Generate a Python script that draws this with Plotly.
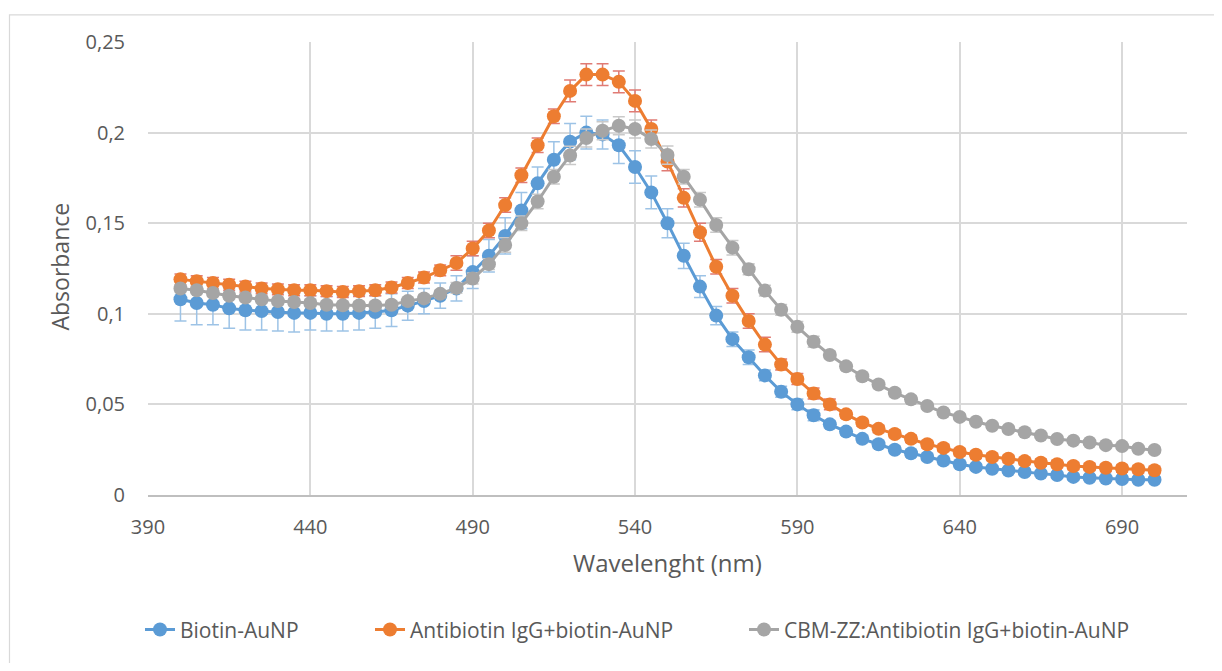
import plotly.graph_objects as go

wavelength = [400, 405, 410, 415, 420, 425, 430, 435, 440, 445, 450, 455, 460, 465, 470,
              475, 480, 485, 490, 495, 500, 505, 510, 515, 520, 525, 530, 535, 540, 545,
              550, 555, 560, 565, 570, 575, 580, 585, 590, 595, 600, 605, 610, 615, 620,
              625, 630, 635, 640, 645, 650, 655, 660, 665, 670, 675, 680, 685, 690, 695, 700]

biotin = [0.108, 0.106, 0.105, 0.103, 0.102, 0.1015, 0.101, 0.1005, 0.1005, 0.100, 0.100,
          0.1005, 0.101, 0.102, 0.1045, 0.107, 0.110, 0.114, 0.123, 0.132, 0.143, 0.157,
          0.172, 0.185, 0.195, 0.200, 0.199, 0.193, 0.181, 0.167, 0.150, 0.132, 0.115,
          0.099, 0.086, 0.076, 0.066, 0.057, 0.050, 0.044, 0.039, 0.035, 0.031, 0.028,
          0.025, 0.023, 0.021, 0.019, 0.017, 0.0155, 0.0145, 0.0135, 0.0127, 0.0118,
          0.011, 0.010, 0.0095, 0.0091, 0.0088, 0.0084, 0.0084]
biotin_err = [0.012, 0.012, 0.011, 0.011, 0.011, 0.0105, 0.0105, 0.0105, 0.0095, 0.0095,
              0.0095, 0.0095, 0.009, 0.009, 0.008, 0.007, 0.007, 0.007, 0.009, 0.009, 0.010,
              0.010, 0.009, 0.010, 0.010, 0.009, 0.008, 0.010, 0.009, 0.009, 0.008, 0.007,
              0.006, 0.005, 0.004, 0.004, 0.003, 0.003, 0.003, 0.003, 0.002, 0.002, 0.002,
              0.002, 0.002, 0.002, 0.002, 0.002, 0.002, 0.0015, 0.0015, 0.0015, 0.0015,
              0.0015, 0.0015, 0.0015, 0.0015, 0.0015, 0.0015, 0.0015, 0.0015]

antibiotin = [0.119, 0.118, 0.117, 0.116, 0.115, 0.114, 0.1135, 0.113, 0.113, 0.1125, 0.112,
              0.1125, 0.113, 0.1145, 0.117, 0.120, 0.124, 0.128, 0.136, 0.146, 0.160, 0.1765,
              0.193, 0.209, 0.223, 0.232, 0.232, 0.228, 0.2175, 0.202, 0.184, 0.164, 0.145,
              0.126, 0.110, 0.096, 0.083, 0.072, 0.064, 0.056, 0.050, 0.0445, 0.040, 0.0365,
              0.0337, 0.031, 0.028, 0.026, 0.0237, 0.0222, 0.021, 0.020, 0.0187, 0.0178,
              0.017, 0.016, 0.0155, 0.015, 0.0146, 0.0142, 0.0137]
antibiotin_err = [0.003, 0.003, 0.003, 0.003, 0.003, 0.003, 0.003, 0.003, 0.003, 0.003, 0.003,
                  0.003, 0.003, 0.003, 0.003, 0.003, 0.003, 0.004, 0.004, 0.004, 0.004, 0.004,
                  0.004, 0.004, 0.006, 0.006, 0.006, 0.006, 0.006, 0.005, 0.005, 0.005, 0.005,
                  0.004, 0.004, 0.004, 0.004, 0.003, 0.003, 0.003, 0.003, 0.002, 0.002, 0.002,
                  0.002, 0.002, 0.002, 0.002, 0.002, 0.002, 0.002, 0.002, 0.002, 0.002, 0.002,
                  0.002, 0.002, 0.002, 0.002, 0.002, 0.002]

cbm = [0.114, 0.113, 0.1115, 0.110, 0.109, 0.108, 0.107, 0.1065, 0.106, 0.105, 0.1047,
       0.1046, 0.1046, 0.105, 0.107, 0.1085, 0.111, 0.1143, 0.1195, 0.1274, 0.138, 0.150,
       0.162, 0.1756, 0.1874, 0.197, 0.201, 0.2038, 0.202, 0.1965, 0.1876, 0.1756, 0.163,
       0.149, 0.1365, 0.1246, 0.1128, 0.1022, 0.0928, 0.0846, 0.0773, 0.071, 0.0655, 0.061,
       0.0564, 0.0528, 0.0491, 0.0455, 0.0431, 0.0404, 0.0382, 0.0364, 0.0346, 0.0328,
       0.0309, 0.030, 0.029, 0.0275, 0.027, 0.0255, 0.0248]
cbm_err = [0.002, 0.002, 0.002, 0.002, 0.002, 0.002, 0.002, 0.002, 0.002, 0.002, 0.002,
           0.002, 0.002, 0.002, 0.002, 0.002, 0.002, 0.003, 0.003, 0.003, 0.004, 0.004,
           0.004, 0.004, 0.005, 0.005, 0.005, 0.005, 0.005, 0.005, 0.005, 0.004, 0.004,
           0.004, 0.004, 0.003, 0.003, 0.003, 0.003, 0.003, 0.002, 0.002, 0.002, 0.002,
           0.002, 0.002, 0.0015, 0.0015, 0.0015, 0.0015, 0.0015, 0.0015, 0.0015, 0.0015,
           0.0015, 0.0015, 0.0015, 0.0015, 0.0015, 0.0015, 0.0015]

series_names = ["Biotin-AuNP", "Antibiotin IgG+biotin-AuNP", "CBM-ZZ:Antibiotin IgG+biotin-AuNP"]
y_tick_vals = [0, 0.05, 0.1, 0.15, 0.2, 0.25]
y_tick_text = ["0", "0,05", "0,1", "0,15", "0,2", "0,25"]
x_tick_vals = [390, 440, 490, 540, 590, 640, 690]
x_title = "Wavelenght (nm)"
y_title = "Absorbance"

FONT = "'Open Sans', Lato, sans-serif"
TXT = "#595959"

# page has an 8px body margin; geometry below is in page pixels
OFF = 8
W, H = 1222 - 2 * OFF, 671 - 2 * OFF
L, R, T, B = 148 - OFF, 1187 - OFF, 42 - OFF, 502 - OFF
pw, ph = R - L, B - T

def px_x(p):
    return (p - OFF - L) / pw

def px_y(p):
    return (B - (p - OFF)) / ph

fig = go.Figure()
styles = [
    (biotin, biotin_err, "#5B9BD5", "#9DC3E6", "legend"),
    (antibiotin, antibiotin_err, "#ED7D31", "#E07B74", "legend2"),
    (cbm, cbm_err, "#A5A5A5", "#C9C9C9", "legend3"),
]
for name, (vals, errs, col, ecol, lg) in zip(series_names, styles):
    fig.add_trace(go.Scatter(
        x=wavelength, y=vals, name=name, mode="lines+markers",
        line=dict(color=col, width=3),
        marker=dict(color=col, size=14, symbol="circle"),
        error_y=dict(type="data", array=errs, visible=True, color=ecol,
                     thickness=1.5, width=6),
        legend=lg,
    ))

def legend_at(text_px):
    return dict(orientation="h", x=px_x(text_px - 40), xanchor="left", y=px_y(639),
                yanchor="middle", font=dict(size=21, color=TXT, family=FONT),
                bgcolor="rgba(0,0,0,0)", borderwidth=0)

fig.update_layout(
    width=W, height=H,
    margin=dict(l=L, r=W - R, t=T, b=H - B, pad=0),
    paper_bgcolor="white", plot_bgcolor="white",
    font=dict(family=FONT, color=TXT, size=18),
    showlegend=True,
    legend=legend_at(180),
    legend2=legend_at(410),
    legend3=legend_at(784),
    xaxis=dict(range=[390, 710], tickvals=x_tick_vals, showgrid=True,
               gridcolor="#D9D9D9", gridwidth=1.5, zeroline=False,
               showline=True, linecolor="#BFBFBF", linewidth=1.5,
               ticks="", ticklabelstandoff=13,
               tickfont=dict(size=20, color=TXT, family=FONT)),
    yaxis=dict(range=[0, 0.25], tickvals=y_tick_vals, ticktext=y_tick_text,
               showgrid=True, gridcolor="#D9D9D9", gridwidth=1.5, zeroline=False,
               showline=False, ticks="", ticklabelstandoff=22,
               tickfont=dict(size=20, color=TXT, family=FONT)),
    annotations=[
        dict(text=x_title, xref="paper", yref="paper", x=px_x(667), y=px_y(571),
             xanchor="center", yanchor="middle", showarrow=False,
             font=dict(size=24, color=TXT, family=FONT)),
        dict(text=y_title, xref="paper", yref="paper", x=px_x(60), y=px_y(270),
             xanchor="center", yanchor="middle", showarrow=False, textangle=-90,
             font=dict(size=23, color=TXT, family=FONT)),
    ],
    shapes=[
        dict(type="rect", xref="paper", yref="paper", x0=px_x(9.5), x1=px_x(1240),
             y0=px_y(700), y1=px_y(14.5), line=dict(color="#D9D9D9", width=1.2),
             fillcolor="rgba(0,0,0,0)", layer="below"),
    ],
)

fig.write_html("out.html")
